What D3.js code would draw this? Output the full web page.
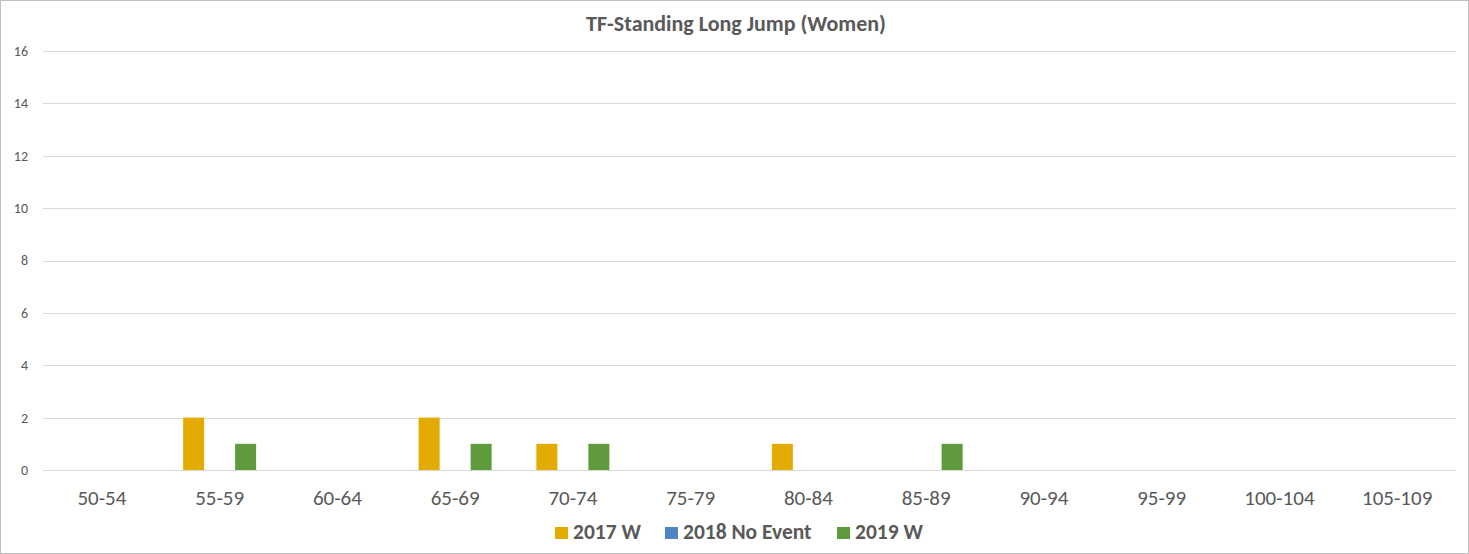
<!DOCTYPE html>
<html>
<head>
<meta charset="utf-8">
<script src="https://cdn.jsdelivr.net/npm/d3@7"></script>
<style>
  html, body { margin: 0; padding: 0; background: #fff; }
  svg { display: block; font-family: Carlito, Lato, "Liberation Sans", sans-serif; }
</style>
</head>
<body>
<svg id="chart" width="1469" height="554"></svg>
<script>
// Age groups along the x axis
const categories = ["50-54","55-59","60-64","65-69","70-74","75-79","80-84","85-89","90-94","95-99","100-104","105-109"];
// Series names and their counts per age group
const seriesNames = ["2017 W", "2018 No Event", "2019 W"];
const values2017 = [0, 2, 0, 2, 1, 0, 1, 0, 0, 0, 0, 0];
const values2018 = [0, 0, 0, 0, 0, 0, 0, 0, 0, 0, 0, 0];
const values2019 = [0, 1, 0, 1, 1, 0, 0, 1, 0, 0, 0, 0];
const yTicks = [0, 2, 4, 6, 8, 10, 12, 14, 16];
const colors = ["#E3AA00", "#4F86C1", "#5F9A3D"];

const seriesValues = [values2017, values2018, values2019];
const svg = d3.select("#chart");
const W = 1469, H = 554;
const FONT = "Carlito, Lato, 'Liberation Sans', sans-serif";

// outer frame
svg.append("rect").attr("x", 0.5).attr("y", 0.5).attr("width", W - 1).attr("height", H - 1)
  .attr("fill", "#fff").attr("stroke", "#BFBFBF").attr("stroke-width", 1);

const plot = { left: 43, right: 1456, top: 51, bottom: 470 };

const x = d3.scaleBand().domain(categories).range([plot.left, plot.right]);
const y = d3.scaleLinear().domain([0, 16]).range([plot.bottom, plot.top]);
const inner = d3.scaleBand().domain(seriesNames).range([-36.5, 36.5]).paddingInner(5 / 26);

// title
svg.append("text").attr("x", 736).attr("y", 31).attr("text-anchor", "middle")
  .attr("font-size", 22).attr("font-weight", "bold").attr("fill", "#595959")
  .text("TF-Standing Long Jump (Women)");

// gridlines
svg.append("g").selectAll("line").data(yTicks).join("line")
  .attr("x1", plot.left).attr("x2", plot.right)
  .attr("y1", d => Math.round(y(d)) + 0.5).attr("y2", d => Math.round(y(d)) + 0.5)
  .attr("stroke", "#D9D9D9").attr("stroke-width", 1);

// y axis labels
const yAxis = d3.axisLeft(y).tickValues(yTicks).tickSize(0).tickPadding(0);
const gy = svg.append("g").attr("transform", `translate(${plot.left - 15},0)`).call(yAxis);
gy.select(".domain").remove();
gy.selectAll("text").attr("font-size", 14).attr("fill", "#595959").attr("font-family", FONT);

// x axis labels
const xAxis = d3.axisBottom(x).tickSize(0).tickPadding(0);
const gx = svg.append("g").attr("transform", `translate(0,${plot.bottom + 20})`).call(xAxis);
gx.select(".domain").remove();
gx.selectAll("text").attr("font-size", 21).attr("fill", "#595959").attr("font-family", FONT);

// bars
seriesNames.forEach((name, si) => {
  svg.append("g").selectAll("rect").data(seriesValues[si]).join("rect")
    .attr("x", (d, i) => x(categories[i]) + x.bandwidth() / 2 + inner(name))
    .attr("width", inner.bandwidth())
    .attr("y", d => y(d))
    .attr("height", d => y(0) - y(d))
    .attr("fill", colors[si]);
});

// legend
const legendItems = [
  { name: seriesNames[0], x: 555 },
  { name: seriesNames[1], x: 665 },
  { name: seriesNames[2], x: 837 }
];
const lg = svg.append("g");
legendItems.forEach((it, i) => {
  lg.append("rect").attr("x", it.x).attr("y", 527).attr("width", 13).attr("height", 12).attr("fill", colors[i]);
  lg.append("text").attr("x", it.x + 18).attr("y", 539)
    .attr("font-size", 21.5).attr("font-weight", "bold").attr("fill", "#595959").text(it.name);
});
</script>
</body>
</html>
